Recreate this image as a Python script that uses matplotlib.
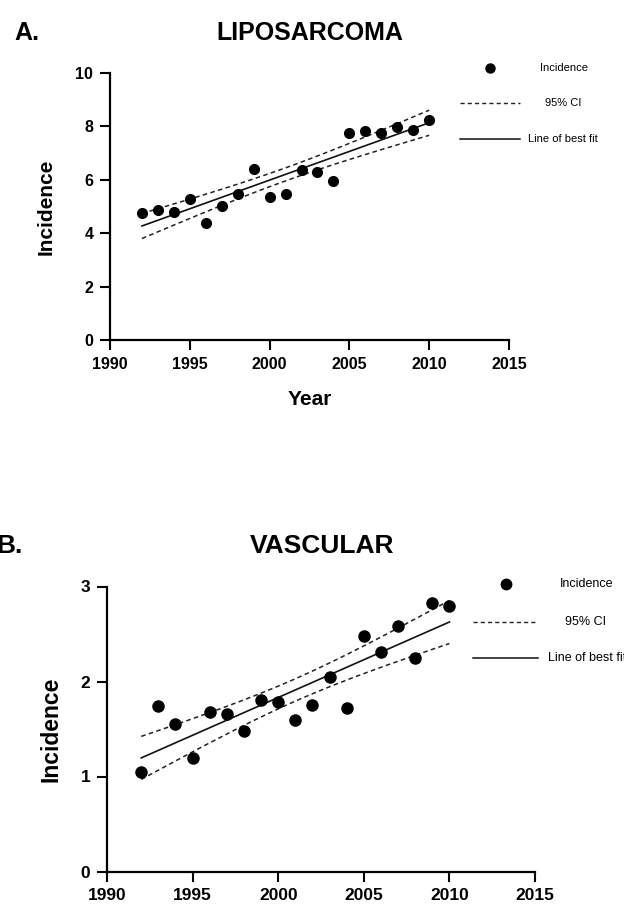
import numpy as np
import matplotlib
matplotlib.use("Agg")
import matplotlib.pyplot as plt
from matplotlib.lines import Line2D

plt.rcParams['font.family'] = ['Liberation Sans', 'DejaVu Sans']

# --- data ---
years = np.arange(1992, 2011)
lipo_inc = [4.75, 4.87, 4.81, 5.29, 4.40, 5.02, 5.47, 6.41, 5.37, 5.47,
            6.37, 6.31, 5.94, 7.75, 7.82, 7.75, 7.96, 7.87, 8.24]
vasc_inc = [1.05, 1.74, 1.55, 1.19, 1.68, 1.66, 1.48, 1.81, 1.78, 1.60,
            1.75, 2.05, 1.72, 2.48, 2.31, 2.58, 2.25, 2.83, 2.80]
xticks = [1990, 1995, 2000, 2005, 2010, 2015]
lipo_yticks = [0, 2, 4, 6, 8, 10]
vasc_yticks = [0, 1, 2, 3]
legend_labels = ["Incidence", "95% CI", "Line of best fit"]

T_975 = 2.1098  # t critical, df = 17

W, H = 624, 909
fig = plt.figure(figsize=(W / 100, H / 100), dpi=100)


def px(x, y):
    return x / W, (H - y) / H


def fit_ci(x, y):
    x = np.asarray(x, float)
    y = np.asarray(y, float)
    b, a = np.polyfit(x, y, 1)
    n = len(x)
    resid = y - (a + b * x)
    s = np.sqrt(np.sum(resid ** 2) / (n - 2))
    xs = np.linspace(x.min(), x.max(), 100)
    yhat = a + b * xs
    se = s * np.sqrt(1 / n + (xs - x.mean()) ** 2 / np.sum((x - x.mean()) ** 2))
    return xs, yhat, yhat - T_975 * se, yhat + T_975 * se


def panel(rect, y, yticks, ylim, tick_fs, lab_fs, ms, ylabpad, xlabel):
    ax = fig.add_axes(rect)
    xs, yhat, lo, hi = fit_ci(years, y)
    ax.plot(xs, hi, ls=(0, (3, 2.2)), color='#222222', lw=1.1)
    ax.plot(xs, lo, ls=(0, (3, 2.2)), color='#222222', lw=1.1)
    ax.plot(xs, yhat, color='#111111', lw=1.2)
    ax.plot(years, y, 'o', color='black', ms=ms, clip_on=False, zorder=5)
    ax.set_xlim(1990, 2015)
    ax.set_ylim(*ylim)
    ax.set_xticks(xticks)
    ax.set_yticks(yticks)
    for sp in ['top', 'right']:
        ax.spines[sp].set_visible(False)
    for sp in ['left', 'bottom']:
        ax.spines[sp].set_linewidth(1.6)
    ax.tick_params(width=1.5, length=7, labelsize=tick_fs, pad=5)
    for lab in ax.get_xticklabels() + ax.get_yticklabels():
        lab.set_fontweight('bold')
    ax.set_ylabel("Incidence", fontsize=lab_fs, fontweight='bold', labelpad=ylabpad)
    if xlabel:
        ax.set_xlabel(xlabel, fontsize=lab_fs, fontweight='bold', labelpad=13)
    return ax


def legend(dot, dash, solid, fs, ms):
    fig.add_artist(Line2D([dot[0] / W], [(H - dot[1]) / H], marker='o', color='black',
                          ms=ms, ls='none', transform=fig.transFigure))
    fig.text(*px(dot[2], dot[1]), legend_labels[0], fontsize=fs, va='center')
    x0, x1, yy, tx = dash
    fig.add_artist(Line2D([x0 / W, x1 / W], [(H - yy) / H] * 2, ls=(0, (3, 2.2)),
                          color='#222222', lw=1.0, transform=fig.transFigure))
    fig.text(*px(tx, yy), legend_labels[1], fontsize=fs, va='center')
    x0, x1, yy, tx = solid
    fig.add_artist(Line2D([x0 / W, x1 / W], [(H - yy) / H] * 2,
                          color='#111111', lw=1.1, transform=fig.transFigure))
    fig.text(*px(tx, yy), legend_labels[2], fontsize=fs, va='center')


# --- A. Liposarcoma ---
panel([110 / W, (H - 340) / H, 399 / W, 267 / H], lipo_inc, lipo_yticks, (0, 10),
      11.5, 15, 7, 14, "Year")
fig.text(*px(14, 33), "A.", fontsize=18, fontweight='bold', va='center')
fig.text(*px(310, 33), "LIPOSARCOMA", fontsize=18, fontweight='bold', va='center', ha='center')
legend((490, 68, 540), (460, 520, 103, 545), (460, 520, 139, 528), 8, 6.5)

# --- B. Vascular ---
panel([107 / W, (H - 871.5) / H, 428 / W, 285 / H], vasc_inc, vasc_yticks, (0, 3),
      12.5, 16.5, 8, 13, None)
fig.text(*px(-4, 546), "B.", fontsize=19, fontweight='bold', va='center')
fig.text(*px(322, 546), "VASCULAR", fontsize=19, fontweight='bold', va='center', ha='center')
legend((506, 584, 560), (473, 538, 622, 565), (473, 538, 658, 548), 9, 7.5)

fig.savefig("out.png", dpi=100)
